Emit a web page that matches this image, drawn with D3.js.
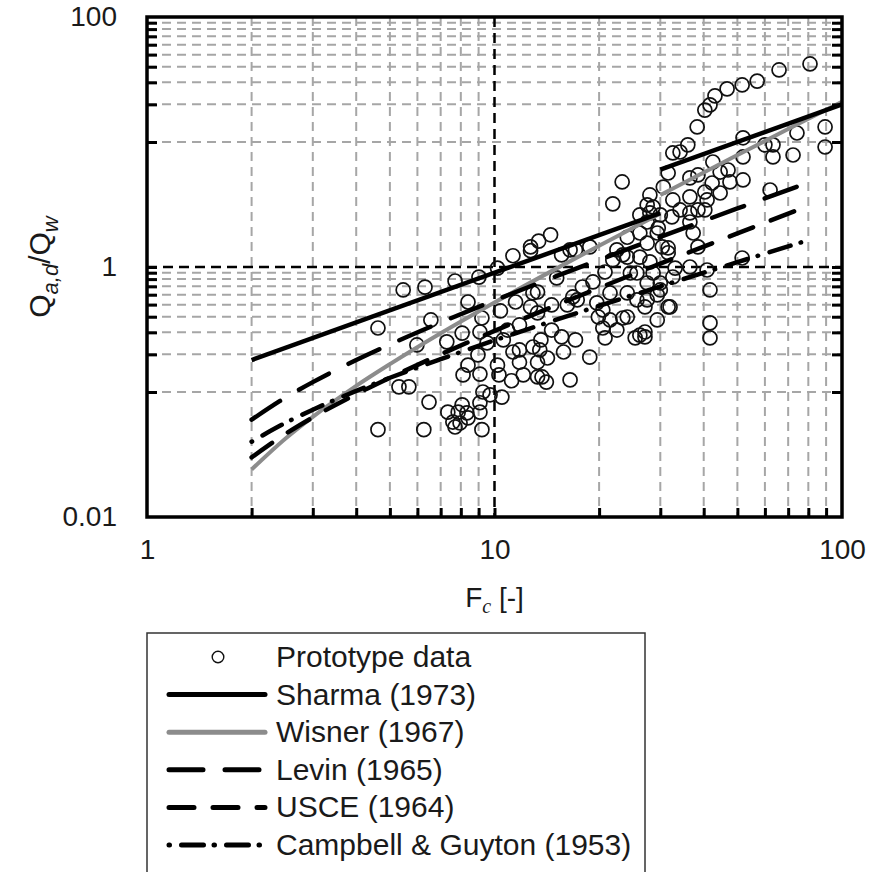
<!DOCTYPE html>
<html>
<head>
<meta charset="utf-8">
<script src="https://cdn.jsdelivr.net/npm/d3@7"></script>
<style>
    html, body { margin: 0; padding: 0; background: #fff; }
    svg { display: block; font-family: "Liberation Sans", Arial, sans-serif; }
</style>
</head>
<body>
<svg id="chart" width="887" height="872"></svg>
<script>
// prototype data: Fc and Qa,d/Qw
const protoF = [4.62, 5.46, 6.31, 6.56, 5.98, 5.31, 5.67, 6.48, 4.62, 6.26, 7.29, 7.34,
    7.70, 9.02, 10.2, 11.3, 12.7, 8.39, 9.20, 10.4, 11.5, 12.9, 13.3, 8.07, 9.08, 9.52,
    10.6, 11.8, 12.9, 8.96, 10.2, 8.39, 8.12, 9.08, 10.3, 11.2, 12.1, 13.3, 9.26, 9.71,
    10.5, 8.07, 8.33, 9.08, 7.59, 7.96, 8.39, 7.70, 9.20, 10.9, 11.8, 12.7, 11.3, 11.8,
    13.3, 13.6, 13.5, 14.2, 13.7, 14.1, 9.08, 7.86, 16.5, 15.6, 16.5, 13.3, 15.1, 16.8,
    17.9, 19.2, 20.8, 24.6, 26.2, 23.4, 14.6, 16.2, 17.3, 19.7, 20.5, 21.5, 24.1, 25.7,
    19.9, 21.5, 23.4, 20.5, 22.5, 20.8, 26.2, 25.4, 14.6, 15.6, 17.1, 15.8, 18.8, 24.1,
    27.5, 30.0, 27.1, 29.4, 31.6, 23.3, 21.9, 14.5, 13.4, 12.7, 26.2, 17.1, 18.8, 22.5,
    24.1, 26.2, 27.5, 28.6, 28.0, 21.9, 24.1, 27.5, 29.4, 30.4, 25.7, 27.5, 30.0, 32.6,
    30.6, 30.0, 32.4, 31.6, 33.1, 36.5, 38.5, 36.5, 34.2, 36.5, 38.5, 40.9, 42.3, 44.6,
    47.0, 47.6, 51.9, 51.9, 63.3, 72.3, 62.1, 41.7, 41.7, 41.7, 51.6, 28.0, 31.6, 40.9,
    28.6, 29.4, 27.1, 32.0, 27.1, 80.9, 65.9, 57.0, 51.6, 46.7, 43.1, 41.7, 40.3, 38.3,
    36.0, 34.2, 32.6, 31.6, 42.5, 36.5, 38.5, 44.6, 51.9, 63.3, 60.0, 74.2, 89.4, 89.4,
    27.5, 32.6, 40.3, 36.5, 40.3, 37.3, 28.0, 29.6];
const protoQ = [0.325, 0.655, 0.69, 0.377, 0.238, 0.110, 0.110, 0.083, 0.050, 0.050, 0.252, 0.069,
    0.773, 0.83, 0.98, 1.23, 1.35, 0.525, 0.391, 0.445, 0.525, 0.62, 0.429, 0.296, 0.302, 0.247,
    0.261, 0.217, 0.229, 0.198, 0.164, 0.164, 0.137, 0.139, 0.137, 0.123, 0.137, 0.132, 0.100, 0.095,
    0.091, 0.079, 0.068, 0.069, 0.0575, 0.0565, 0.062, 0.0525, 0.050, 0.313, 0.344, 0.479, 0.209, 0.173,
    0.173, 0.261, 0.217, 0.187, 0.132, 0.120, 0.082, 0.069, 0.125, 1.25, 1.37, 0.631, 0.817, 0.576,
    0.692, 0.759, 0.912, 0.895, 1.20, 1.25, 0.497, 0.497, 0.545, 0.516, 0.453, 0.620, 0.620, 0.545,
    0.398, 0.377, 0.391, 0.325, 0.313, 0.271, 0.285, 0.271, 0.313, 0.276, 0.261, 0.209, 0.190, 0.398,
    0.545, 0.655, 0.276, 0.377, 0.479, 4.79, 3.20, 1.81, 1.61, 1.45, 2.61, 1.37, 1.45, 1.37,
    1.73, 1.87, 2.29, 3.02, 3.77, 1.14, 1.20, 1.55, 1.87, 1.45, 0.895, 0.745, 0.745, 0.832,
    4.36, 2.61, 2.52, 1.42, 0.98, 1.00, 1.45, 2.29, 2.86, 3.64, 2.86, 3.44, 4.70, 3.91,
    5.97, 4.79, 4.97, 7.59, 7.59, 7.87, 4.13, 0.655, 0.357, 0.271, 1.18, 1.10, 1.30, 0.946,
    0.895, 0.598, 0.479, 0.479, 0.302, 42.1, 37.7, 30.7, 28.6, 26.6, 23.4, 19.8, 18.0, 13.2,
    9.49, 8.32, 8.17, 5.65, 6.92, 5.16, 5.45, 5.75, 10.8, 9.49, 9.49, 11.8, 13.2, 9.12,
    3.14, 3.44, 3.98, 2.71, 2.86, 1.87, 2.71, 2.05];

const sharmaLowF = [2, 30];
const sharmaLowQ = [0.18, 2.7];
const sharmaHighF = [30, 100];
const sharmaHighQ = [6.0, 20.0];

const wisnerLowF = [2, 2.5, 3, 4, 5, 7, 10, 15, 20, 25, 30];
const wisnerLowQ = [0.024, 0.0423, 0.0633, 0.112, 0.167, 0.295, 0.52, 0.966, 1.48, 2.05, 2.68];
const wisnerHighF = [30, 40, 50, 70, 100];
const wisnerHighQ = [3.77, 5.71, 7.86, 12.7, 21.0];

const curveF = [2, 2.5, 3, 4, 5, 7, 10, 15, 20, 30, 50, 78];
const levinQ = [0.060, 0.090, 0.120, 0.180, 0.240, 0.360, 0.540, 0.840, 1.14, 1.74, 2.94, 4.62];
const usceQ = [0.030, 0.0461, 0.0626, 0.0961, 0.130, 0.200, 0.308, 0.492, 0.680, 1.065, 1.856, 3.00];
const campbellQ = [0.040, 0.0565, 0.0721, 0.102, 0.130, 0.183, 0.259, 0.377, 0.489, 0.700, 1.093, 1.605];

// axes
const xTickVals = [2, 3, 4, 5, 6, 7, 8, 9, 10, 20, 30, 40, 50, 60, 70, 80, 90];
const xLabelVals = [1, 10, 100];
const xGridVals = [2, 3, 4, 5, 6, 7, 8, 9, 20, 30, 40, 50, 60, 70, 80, 90];
const yTickVals = [0.1, 0.2, 0.3, 0.4, 0.5, 0.6, 0.7, 0.8, 0.9, 1, 10, 20, 30, 40, 50, 60, 70, 80, 90];
const yLabelVals = [0.01, 1, 100];
const yGridVals = [0.1, 0.2, 0.3, 0.4, 0.5, 0.6, 0.7, 0.8, 0.9, 10, 20, 30, 40, 50, 60, 70, 80, 90];

const legendLabels = ["Prototype data", "Sharma (1973)", "Wisner (1967)", "Levin (1965)",
    "USCE (1964)", "Campbell & Guyton (1953)"];

const plotLeft = 147, plotRight = 842, plotTop = 17, plotBottom = 517;

const svg = d3.select("#chart");

const x = d3.scaleLog().domain([1, 100]).range([plotLeft, plotRight]);
const y = d3.scaleLog().domain([0.01, 100]).range([plotBottom, plotTop]);

// gridlines
const grid = svg.append("g");
grid.selectAll(".gx").data(xGridVals).join("line")
    .attr("x1", d => x(d)).attr("x2", d => x(d))
    .attr("y1", plotTop).attr("y2", plotBottom)
    .attr("stroke", "#a6a6a6").attr("stroke-width", 2).attr("stroke-dasharray", "9,6");
grid.selectAll(".gy").data(yGridVals).join("line")
    .attr("x1", plotLeft).attr("x2", plotRight)
    .attr("y1", d => y(d)).attr("y2", d => y(d))
    .attr("stroke", "#a6a6a6").attr("stroke-width", 2).attr("stroke-dasharray", "9,6");
grid.append("line")
    .attr("x1", x(10)).attr("x2", x(10)).attr("y1", plotTop).attr("y2", plotBottom)
    .attr("stroke", "#000").attr("stroke-width", 2.5).attr("stroke-dasharray", "10,6");
grid.append("line")
    .attr("x1", plotLeft).attr("x2", plotRight).attr("y1", y(1)).attr("y2", y(1))
    .attr("stroke", "#000").attr("stroke-width", 2.5).attr("stroke-dasharray", "10,6");

// prototype points
svg.append("g").selectAll("circle")
    .data(d3.zip(protoF, protoQ))
    .join("circle")
    .attr("cx", d => x(d[0]))
    .attr("cy", d => y(d[1]))
    .attr("r", 7)
    .attr("fill", "none")
    .attr("stroke", "#111")
    .attr("stroke-width", 1.7);

// relations
const line = d3.line().x(d => x(d[0])).y(d => y(d[1])).curve(d3.curveMonotoneX);

const styles = {
    sharma: { stroke: "#000", width: 4.5, dash: null, cap: "butt" },
    wisner: { stroke: "#8c8c8c", width: 4, dash: null, cap: "butt" },
    levin: { stroke: "#000", width: 4.5, dash: "34,22", cap: "round" },
    usce: { stroke: "#000", width: 4.5, dash: "25,19", cap: "round" },
    campbell: { stroke: "#000", width: 4.5, dash: "0.5,12,22,10.5", cap: "round" }
};

const series = [
    [wisnerLowF, wisnerLowQ, "wisner"],
    [wisnerHighF, wisnerHighQ, "wisner"],
    [curveF, campbellQ, "campbell"],
    [curveF, usceQ, "usce"],
    [curveF, levinQ, "levin"],
    [sharmaLowF, sharmaLowQ, "sharma"],
    [sharmaHighF, sharmaHighQ, "sharma"]
];

const lines = svg.append("g");
series.forEach(s => {
    const st = styles[s[2]];
    lines.append("path")
        .attr("d", line(d3.zip(s[0], s[1])))
        .attr("fill", "none")
        .attr("stroke", st.stroke)
        .attr("stroke-width", st.width)
        .attr("stroke-linecap", st.cap)
        .attr("stroke-dasharray", st.dash);
});

// frame
svg.append("rect")
    .attr("x", plotLeft).attr("y", plotTop)
    .attr("width", plotRight - plotLeft).attr("height", plotBottom - plotTop)
    .attr("fill", "none").attr("stroke", "#000").attr("stroke-width", 3.5);

// ticks (inside)
function styleTicks(g) {
    g.select(".domain").remove();
    g.selectAll(".tick line").attr("stroke", "#000").attr("stroke-width", 3);
}
svg.append("g").attr("transform", `translate(0,${plotBottom})`)
    .call(d3.axisBottom(x).tickValues(xTickVals).tickSize(-9).tickFormat(""))
    .call(styleTicks);
svg.append("g").attr("transform", `translate(${plotLeft},0)`)
    .call(d3.axisLeft(y).tickValues(yTickVals).tickSize(-10).tickFormat(""))
    .call(styleTicks);
svg.append("g").attr("transform", `translate(${plotRight},0)`)
    .call(d3.axisRight(y).tickValues(yTickVals).tickSize(-10).tickFormat(""))
    .call(styleTicks);

// tick labels
function styleLabels(g) {
    g.select(".domain").remove();
    g.selectAll(".tick line").remove();
    g.selectAll(".tick text")
        .attr("font-family", "'Liberation Sans', Arial, sans-serif")
        .attr("font-size", 28)
        .attr("fill", "#1a1a1a");
}
svg.append("g").attr("transform", `translate(0,${plotBottom})`)
    .call(d3.axisBottom(x).tickValues(xLabelVals).tickSize(0).tickPadding(22)
        .tickFormat(d => String(d)))
    .call(styleLabels);
svg.append("g").attr("transform", `translate(${plotLeft},0)`)
    .call(d3.axisLeft(y).tickValues(yLabelVals).tickSize(0).tickPadding(30)
        .tickFormat(d => String(d)))
    .call(styleLabels);

// axis titles
const xt = svg.append("text")
    .attr("x", x(10)).attr("y", 607)
    .attr("text-anchor", "middle")
    .attr("font-size", 28).attr("fill", "#1a1a1a");
xt.append("tspan").text("F");
xt.append("tspan").attr("font-family", "'Liberation Serif', 'Times New Roman', serif")
    .attr("font-style", "italic").attr("font-size", 20).attr("dy", 6).text("c");
xt.append("tspan").attr("dy", -6).text(" [-]");

const yt = svg.append("text")
    .attr("transform", "translate(50,267) rotate(-90)")
    .attr("text-anchor", "middle")
    .attr("font-size", 30).attr("fill", "#1a1a1a");
yt.append("tspan").text("Q");
yt.append("tspan").attr("font-style", "italic").attr("font-size", 22).attr("dy", 8).text("a,d");
yt.append("tspan").attr("dy", -8).text("/Q");
yt.append("tspan").attr("font-style", "italic").attr("font-size", 22).attr("dy", 8).text("w");

// legend
const legend = svg.append("g");
legend.append("rect")
    .attr("x", 147).attr("y", 633).attr("width", 498).attr("height", 280)
    .attr("fill", "#fff").attr("stroke", "#333").attr("stroke-width", 1.5);

const legendKeys = ["proto", "sharma", "wisner", "levin", "usce", "campbell"];
legendLabels.forEach((lab, i) => {
    const cy = 657 + i * 37.6;
    const key = legendKeys[i];
    if (key === "proto") {
        legend.append("circle").attr("cx", 218).attr("cy", cy).attr("r", 5.8)
            .attr("fill", "none").attr("stroke", "#111").attr("stroke-width", 1.4);
    } else {
        const st = styles[key];
        legend.append("line")
            .attr("x1", 169).attr("x2", 265).attr("y1", cy).attr("y2", cy)
            .attr("stroke", st.stroke).attr("stroke-width", 5)
            .attr("stroke-linecap", "round")
            .attr("stroke-dasharray", st.dash);
    }
    legend.append("text")
        .attr("x", 276).attr("y", cy + 10)
        .attr("font-size", 30).attr("fill", "#1a1a1a")
        .text(lab);
});
</script>
</body>
</html>
